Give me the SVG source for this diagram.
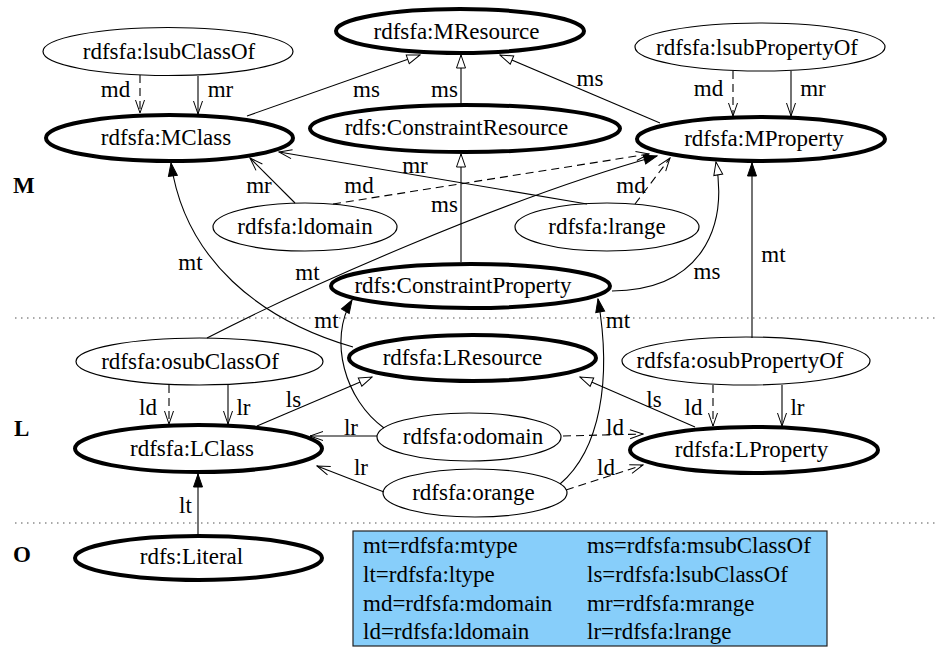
<svg xmlns="http://www.w3.org/2000/svg" width="935" height="648" viewBox="0 0 935 648">
  <style>
    text { font-family: "Liberation Serif", "Times New Roman", serif; font-size: 23px; fill: #000; }
    .node text, .elabel { text-anchor: middle; }
    .thick { fill: #fff; stroke: #000; stroke-width: 4; }
    .thin { fill: #fff; stroke: #000; stroke-width: 1.2; }
    .edge { fill: none; stroke: #000; stroke-width: 1.1; }
    .dash { stroke-dasharray: 8 5; }
    .type { marker-end: url(#filled); }
    .sub { marker-end: url(#hollow); }
    .dr { marker-end: url(#open); }
    .layer { font-weight: bold; }
    .sep { stroke: #555; stroke-width: 1.2; stroke-dasharray: 1.5 4.5; }
  </style>
  <defs>
    <marker id="filled" viewBox="-1 -1 15 11" refX="13" refY="4.5" markerWidth="15" markerHeight="11" orient="auto" markerUnits="userSpaceOnUse">
      <path d="M0,0 L13,4.5 L0,9 Z" fill="#000" stroke="#000" stroke-width="1" stroke-dasharray="none"/>
    </marker>
    <marker id="hollow" viewBox="-1 -1 15 11" refX="13" refY="4.5" markerWidth="15" markerHeight="11" orient="auto" markerUnits="userSpaceOnUse">
      <path d="M0,0 L13,4.5 L0,9 Z" fill="#fff" stroke="#000" stroke-width="1" stroke-dasharray="none"/>
    </marker>
    <marker id="open" viewBox="-1 -1 15 11" refX="13" refY="4.5" markerWidth="15" markerHeight="11" orient="auto" markerUnits="userSpaceOnUse">
      <path d="M0,0 L13,4.5 L0,9" fill="none" stroke="#000" stroke-width="1" stroke-dasharray="none"/>
    </marker>
  </defs>

  <!-- layer separators and layer names -->
  <g id="layers">
    <line class="sep" x1="15" y1="318" x2="935" y2="318"/>
    <line class="sep" x1="15" y1="523" x2="935" y2="523"/>
    <text class="layer" x="13" y="193">M</text>
    <text class="layer" x="14" y="436">L</text>
    <text class="layer" x="13" y="562">O</text>
  </g>

  <!-- abbreviation key -->
  <g id="legend">
    <rect x="353" y="531" width="474" height="115" fill="#87CEFA" stroke="#222" stroke-width="1.2"/>
    <text x="363" y="553">mt=rdfsfa:mtype</text>
    <text x="363" y="582">lt=rdfsfa:ltype</text>
    <text x="363" y="611">md=rdfsfa:mdomain</text>
    <text x="363" y="639">ld=rdfsfa:ldomain</text>
    <text x="587" y="553">ms=rdfsfa:msubClassOf</text>
    <text x="587" y="582">ls=rdfsfa:lsubClassOf</text>
    <text x="587" y="611">mr=rdfsfa:mrange</text>
    <text x="587" y="639">lr=rdfsfa:lrange</text>
  </g>

  <!-- M layer -->
  <g id="n-mresource" class="node"><ellipse class="thick" cx="460" cy="31" rx="124" ry="22"/><text x="456.5" y="38.5">rdfsfa:MResource</text></g>
  <g id="n-lsubclassof" class="node"><ellipse class="thin" cx="168" cy="51.5" rx="125" ry="24"/><text x="169" y="58.5">rdfsfa:lsubClassOf</text></g>
  <g id="n-lsubpropertyof" class="node"><ellipse class="thin" cx="760" cy="47" rx="125" ry="24"/><text x="757" y="55">rdfsfa:lsubPropertyOf</text></g>
  <g id="n-mclass" class="node"><ellipse class="thick" cx="169.5" cy="138" rx="123.5" ry="23"/><text x="166" y="144.5">rdfsfa:MClass</text></g>
  <g id="n-constraintresource" class="node"><ellipse class="thick" cx="465" cy="128.5" rx="155" ry="23.5"/><text x="456.5" y="135">rdfs:ConstraintResource</text></g>
  <g id="n-mproperty" class="node"><ellipse class="thick" cx="761" cy="139" rx="124" ry="22"/><text x="764" y="146">rdfsfa:MProperty</text></g>
  <g id="n-ldomain" class="node"><ellipse class="thin" cx="305" cy="227" rx="92" ry="24"/><text x="305" y="234">rdfsfa:ldomain</text></g>
  <g id="n-lrange" class="node"><ellipse class="thin" cx="607" cy="227" rx="92" ry="24"/><text x="607" y="234">rdfsfa:lrange</text></g>
  <g id="n-constraintproperty" class="node"><ellipse class="thick" cx="470.5" cy="286" rx="139.5" ry="22"/><text x="463" y="293">rdfs:ConstraintProperty</text></g>

  <!-- L layer -->
  <g id="n-osubclassof" class="node"><ellipse class="thin" cx="199.5" cy="361.5" rx="123.5" ry="23.5"/><text x="190" y="368.5">rdfsfa:osubClassOf</text></g>
  <g id="n-lresource" class="node"><ellipse class="thick" cx="472.5" cy="358" rx="123.5" ry="23"/><text x="462.5" y="365">rdfsfa:LResource</text></g>
  <g id="n-osubpropertyof" class="node"><ellipse class="thin" cx="746" cy="361" rx="124" ry="24"/><text x="740" y="368">rdfsfa:osubPropertyOf</text></g>
  <g id="n-lclass" class="node"><ellipse class="thick" cx="198.5" cy="448.5" rx="123.5" ry="23.5"/><text x="192" y="455.5">rdfsfa:LClass</text></g>
  <g id="n-odomain" class="node"><ellipse class="thin" cx="469" cy="437" rx="92" ry="24"/><text x="473" y="444">rdfsfa:odomain</text></g>
  <g id="n-lproperty" class="node"><ellipse class="thick" cx="754" cy="450" rx="124" ry="23"/><text x="751.5" y="457">rdfsfa:LProperty</text></g>
  <g id="n-orange" class="node"><ellipse class="thin" cx="475" cy="493" rx="92" ry="24"/><text x="473.5" y="500">rdfsfa:orange</text></g>

  <!-- O layer -->
  <g id="n-literal" class="node"><ellipse class="thick" cx="198.5" cy="558" rx="123.5" ry="22"/><text x="191.5" y="564">rdfs:Literal</text></g>

  <!-- connectors -->
  <g id="edges">
    <path class="edge dash dr" d="M140,75 L140,113"/>
    <path class="edge dr" d="M198,76 L198,114"/>
    <path class="edge sub" d="M247,116 L420,55"/>
    <path class="edge sub" d="M461,104 L461,55"/>
    <path class="edge sub" d="M660,123 L500,55"/>
    <path class="edge dash dr" d="M733,71 L733,116"/>
    <path class="edge dr" d="M791,71 L791,116"/>
    <path class="edge dr" d="M295,203 L250,158"/>
    <path class="edge dash dr" d="M333,204 L649,154"/>
    <path class="edge dr" d="M587,204 L279,152"/>
    <path class="edge dash dr" d="M635,204 L670,158"/>
    <path class="edge sub" d="M461,262 L461,154"/>
    <path class="edge sub" d="M612,291 C700,290 728,230 716,162"/>
    <path class="edge type" d="M752,338 L752,163"/>
    <path class="edge type" d="M353,347 C260,320 185,260 171,163"/>
    <path class="edge type" d="M207,338 C300,290 500,200 657,156"/>
    <path class="edge type" d="M384,428 C345,400 328,340 352,300"/>
    <path class="edge type" d="M560,484 C600,450 612,380 598,299"/>
    <path class="edge dash dr" d="M169,385 L169,424"/>
    <path class="edge dr" d="M228,385 L228,424"/>
    <path class="edge sub" d="M257,426 L372,377"/>
    <path class="edge sub" d="M695,427 L580,377"/>
    <path class="edge dash dr" d="M713,385 L713,426"/>
    <path class="edge dr" d="M782,385 L782,426"/>
    <path class="edge dr" d="M377,436 L310,436"/>
    <path class="edge dash dr" d="M563,436 L643,434"/>
    <path class="edge dr" d="M384,492 L317,466"/>
    <path class="edge dash dr" d="M566,490 L643,465"/>
    <path class="edge type" d="M198,534 L198,474"/>

    <text class="elabel" x="115.5" y="97">md</text>
    <text class="elabel" x="220.5" y="97">mr</text>
    <text class="elabel" x="366.5" y="97">ms</text>
    <text class="elabel" x="444.5" y="97">ms</text>
    <text class="elabel" x="590" y="86">ms</text>
    <text class="elabel" x="708.5" y="96">md</text>
    <text class="elabel" x="813" y="96">mr</text>
    <text class="elabel" x="259" y="193">mr</text>
    <text class="elabel" x="359" y="193">md</text>
    <text class="elabel" x="415" y="173">mr</text>
    <text class="elabel" x="631" y="193">md</text>
    <text class="elabel" x="444.5" y="212">ms</text>
    <text class="elabel" x="707" y="279">ms</text>
    <text class="elabel" x="773.5" y="262">mt</text>
    <text class="elabel" x="190.5" y="270">mt</text>
    <text class="elabel" x="307.5" y="280">mt</text>
    <text class="elabel" x="326.5" y="328">mt</text>
    <text class="elabel" x="618" y="328">mt</text>
    <text class="elabel" x="148" y="415">ld</text>
    <text class="elabel" x="243.5" y="415">lr</text>
    <text class="elabel" x="293.5" y="407">ls</text>
    <text class="elabel" x="654" y="407">ls</text>
    <text class="elabel" x="693.5" y="415">ld</text>
    <text class="elabel" x="797.5" y="415">lr</text>
    <text class="elabel" x="351" y="435">lr</text>
    <text class="elabel" x="615" y="435">ld</text>
    <text class="elabel" x="361" y="475">lr</text>
    <text class="elabel" x="606" y="475">ld</text>
    <text class="elabel" x="185.5" y="513">lt</text>
  </g>
</svg>
